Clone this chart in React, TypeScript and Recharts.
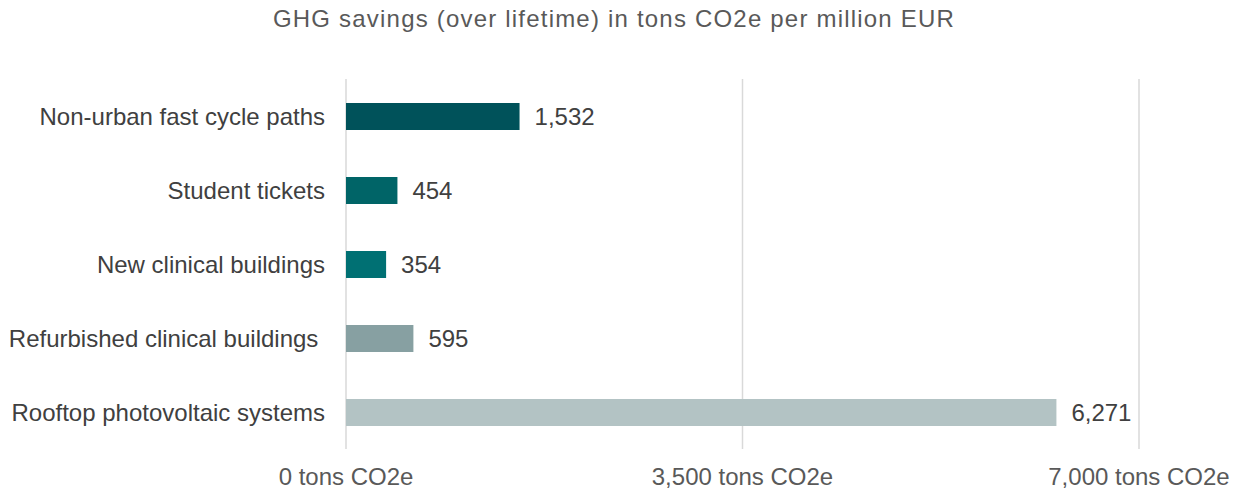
import { BarChart, Bar, XAxis, YAxis, CartesianGrid, Cell, LabelList } from "recharts";

const categories = [
	"Non-urban fast cycle paths",
	"Student tickets",
	"New clinical buildings",
	"Refurbished clinical buildings\u00A0",
	"Rooftop photovoltaic systems",
];
const savings = [1532, 454, 354, 595, 6271];
const barColors = ["#00525A", "#006467", "#007073", "#87A0A2", "#B3C3C4"];
const xTicks = [0, 3500, 7000];

const data = categories.map((name, i) => ({ name, value: savings[i] }));

const font = "'Liberation Sans', Arial, sans-serif";

export default function App() {
	return (
		<div
			style={{
				position: "absolute",
				top: 0,
				left: 0,
				width: 1239,
				height: 493,
				background: "#fff",
				fontFamily: font,
			}}
		>
			<div
				style={{
					position: "absolute",
					top: 5,
					left: 0,
					width: 1228,
					textAlign: "center",
					fontSize: 24,
					letterSpacing: 1.2,
					color: "#595959",
				}}
			>
				GHG savings (over lifetime) in tons CO2e per million EUR
			</div>
			<div style={{ position: "absolute", top: 0, left: 0 }}>
				<BarChart
					width={1239}
					height={493}
					data={data}
					layout="vertical"
					margin={{ top: 79, right: 100, bottom: 14, left: 0 }}
				>
					<CartesianGrid horizontal={false} stroke="#D9D9D9" strokeWidth={1.5} />
					<XAxis
						type="number"
						domain={[0, 7000]}
						ticks={xTicks}
						axisLine={false}
						tickLine={false}
						height={30}
						tickMargin={13}
						tick={{ fill: "#595959", fontSize: 24, fontFamily: font }}
						tickFormatter={(v: number) => `${v.toLocaleString("en-US")} tons CO2e`}
					/>
					<YAxis
						type="category"
						dataKey="name"
						width={346}
						axisLine={false}
						tickLine={false}
						tickMargin={15}
						tick={{ fill: "#404040", fontSize: 24, fontFamily: font }}
					/>
					<Bar dataKey="value" barSize={27} isAnimationActive={false}>
						{data.map((d, i) => (
							<Cell key={d.name} fill={barColors[i]} />
						))}
						<LabelList
							dataKey="value"
							position="right"
							offset={15}
							fill="#404040"
							fontSize={24}
							fontFamily={font}
							formatter={(v: number) => v.toLocaleString("en-US")}
						/>
					</Bar>
				</BarChart>
			</div>
		</div>
	);
}
